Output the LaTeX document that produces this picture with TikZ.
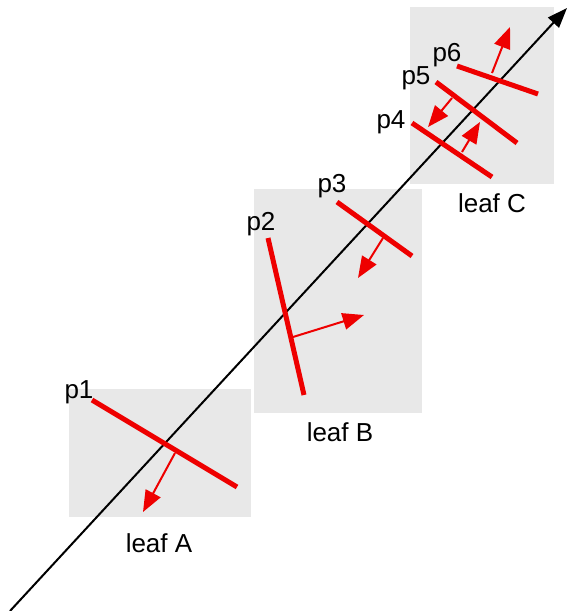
\documentclass[tikz,border=0pt]{standalone}
\usepackage{fontspec}
\setmainfont{Liberation Sans}
\usetikzlibrary{positioning, arrows.meta}
\definecolor{leafgray}{HTML}{E8E8E8}
\definecolor{planered}{HTML}{EE0000}

\begin{document}
\begin{tikzpicture}[
    x=0.75pt, y=-0.75pt,
    leaf/.style={fill=leafgray, draw=none},
    plane/.style={draw=planered, line width=3.75pt},
    normal/.style={draw=planered, line width=1.5pt, -{Triangle[length=16pt, width=12.5pt]}},
    ray/.style={draw=black, line width=1.5pt, -{Triangle[length=15pt, width=11pt]}},
    lbl/.style={font=\fontsize{19.5}{23}\selectfont, inner sep=0pt},
]
\useasboundingbox (0,0) rectangle (567,611);

% leaves
\fill [leaf] (69,389) rectangle (251,517);
\fill [leaf] (254,189) rectangle (422,413);
\fill [leaf] (410,7) rectangle (554,184);

\node [lbl] (leafA) at (159,543) {leaf A};
\node [lbl] (leafB) at (340,432) {leaf B};
\node [lbl] (leafC) at (492,203) {leaf C};

% ray
\coordinate (origin) at (10,611);
\coordinate (target) at (567,8);
\draw [ray] (origin) -- (target);

% planes
\coordinate (p1a) at (92,400);  \coordinate (p1b) at (237,487);
\coordinate (p2a) at (268,238); \coordinate (p2b) at (304,395);
\coordinate (p3a) at (337,202); \coordinate (p3b) at (412,256);
\coordinate (p4a) at (412,123); \coordinate (p4b) at (492,177);
\coordinate (p5a) at (436,82);  \coordinate (p5b) at (517,143);
\coordinate (p6a) at (457,66);  \coordinate (p6b) at (538,94);

\draw [plane] (p1a) -- (p1b);
\draw [plane] (p2a) -- (p2b);
\draw [plane] (p3a) -- (p3b);
\draw [plane] (p4a) -- (p4b);
\draw [plane] (p5a) -- (p5b);
\draw [plane] (p6a) -- (p6b);

% normals
\coordinate (n1) at (175,453); \coordinate (n1t) at (143,512);
\coordinate (n2) at (293,337); \coordinate (n2t) at (364,315);
\coordinate (n3) at (383,238); \coordinate (n3t) at (358,278);
\coordinate (n4) at (462,152); \coordinate (n4t) at (480,122);
\coordinate (n5) at (452,98);  \coordinate (n5t) at (428,127);
\coordinate (n6) at (492,73);  \coordinate (n6t) at (510,27);

\draw [normal] (n1) -- (n1t);
\draw [normal] (n2) -- (n2t);
\draw [normal] (n3) -- (n3t);
\draw [normal] (n4) -- (n4t);
\draw [normal] (n5) -- (n5t);
\draw [normal] (n6) -- (n6t);

\node [lbl] (p1) at (79,392) {p1};
\node [lbl] (p2) at (261,224) {p2};
\node [lbl] (p3) at (332,186) {p3};
\node [lbl] (p4) at (391,122) {p4};
\node [lbl] (p5) at (416,78) {p5};
\node [lbl] (p6) at (447,55) {p6};
\end{tikzpicture}
\end{document}
